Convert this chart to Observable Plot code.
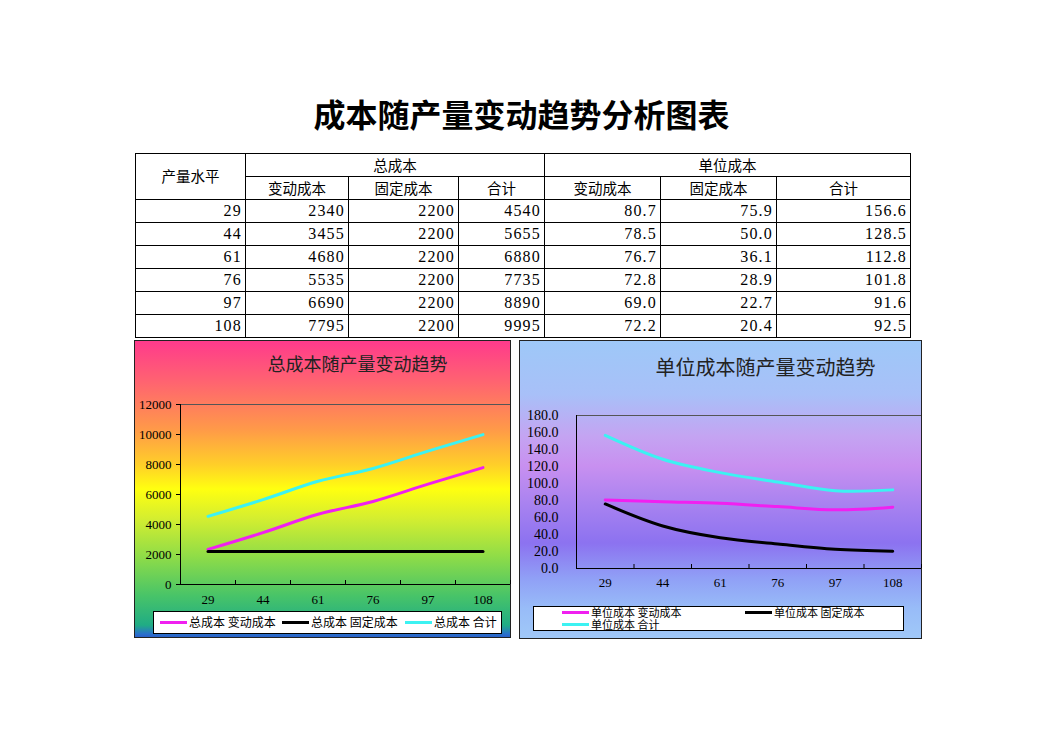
<!DOCTYPE html>
<html><head><meta charset="utf-8">
<script src="https://cdn.jsdelivr.net/npm/d3@7"></script>
<script src="https://cdn.jsdelivr.net/npm/@observablehq/plot@0.6"></script>
<style>
body{margin:0;background:#fff;}
#page{position:relative;width:1043px;height:733px;font-family:"Noto Sans CJK SC",sans-serif;color:#000;overflow:hidden;}
#title{position:absolute;left:0;width:1043px;top:90px;text-align:center;font-size:32px;font-weight:700;line-height:46px;letter-spacing:0px;}
#tbl{position:absolute;left:135px;top:153px;border-collapse:collapse;table-layout:fixed;width:775px;}
#tbl td{border:1px solid #000;height:22px;padding:0 3px 0 0;font-size:14.5px;line-height:20px;overflow:hidden;white-space:nowrap;}
#tbl td.h{text-align:center;padding:0;}
#tbl td.n{text-align:right;font-family:"Liberation Serif",serif;font-size:16px;letter-spacing:1.2px;}
.chart{position:absolute;box-sizing:border-box;border:1px solid #222;}
.ctitle{position:absolute;left:0;right:0;text-align:center;color:#222;}
.plot{position:absolute;left:0;}
.legend{position:absolute;background:#fff;border:1px solid #000;box-sizing:border-box;font-size:12px;}
.item{position:absolute;display:flex;align-items:center;white-space:nowrap;line-height:12px;}
.sw{display:inline-block;width:27px;height:3px;margin-right:2px;}
#l2 .item{font-size:11px;line-height:11px;}
</style></head>
<body>
<div id="page">
  <div id="title">成本随产量变动趋势分析图表</div>
  <table id="tbl"></table>
  <div id="c1" class="chart" style="left:134px;top:340px;width:377px;height:298px;background:linear-gradient(to bottom,#ff3a8c 0%,#ff6470 14%,#ff9a48 30%,#ffd028 42%,#ffff10 50%,#d4ee30 60%,#8edc48 73%,#48c468 86%,#20ac84 96%,#2a70cc 99%,#2a60c8 100%);">
    <div class="ctitle" style="top:10px;font-size:18px;line-height:24px;padding-left:70px;">总成本随产量变动趋势</div>
    <div class="plot" id="p1" style="top:49px;"></div>
    <div class="legend" id="l1" style="left:18px;top:270px;width:349px;height:23px;"></div>
  </div>
  <div id="c2" class="chart" style="left:519px;top:340px;width:403px;height:299px;background:linear-gradient(to bottom,#9ec8f8 0%,#a8c0f8 18%,#c4a4f2 32%,#c890f0 42%,#a882f0 55%,#8c72f0 68%,#90a0f6 80%,#98bcf8 90%,#a0c8f8 100%);">
    <div class="ctitle" style="top:13px;font-size:20px;line-height:26px;padding-left:90px;">单位成本随产量变动趋势</div>
    <div class="plot" id="p2" style="top:64px;"></div>
    <div class="legend" id="l2" style="left:13px;top:265px;width:371px;height:25px;"></div>
  </div>
</div>
<script>
// ---- data ----
const output = [29, 44, 61, 76, 97, 108];
const totalVar = [2340, 3455, 4680, 5535, 6690, 7795];
const totalFixed = [2200, 2200, 2200, 2200, 2200, 2200];
const totalSum = [4540, 5655, 6880, 7735, 8890, 9995];
const unitVar = [80.7, 78.5, 76.7, 72.8, 69.0, 72.2];
const unitFixed = [75.9, 50.0, 36.1, 28.9, 22.7, 20.4];
const unitSum = [156.6, 128.5, 112.8, 101.8, 91.6, 92.5];
const groups = ["总成本", "单位成本"];
const seriesNames = ["变动成本", "固定成本", "合计"];
const rowHeader = "产量水平";
const totalTicks = [0, 2000, 4000, 6000, 8000, 10000, 12000];
const unitTicks = [0, 20, 40, 60, 80, 100, 120, 140, 160, 180];
const seriesColors = ["#f020f0", "#000000", "#3cf2f2"];

// ---- table ----
const tbl = document.getElementById("tbl");
const colW = [110, 103, 110, 86, 116, 116, 134];
let html = "<colgroup>" + colW.map(w => `<col style="width:${w}px">`).join("") + "</colgroup>";
html += `<tr><td class="h" rowspan="2" style="vertical-align:top;padding-top:12px">${rowHeader}</td><td class="h" colspan="3">${groups[0]}</td><td class="h" colspan="3">${groups[1]}</td></tr>`;
html += "<tr>" + seriesNames.concat(seriesNames).map(s => `<td class="h">${s}</td>`).join("") + "</tr>";
const f1 = d3.format(".1f");
output.forEach((o, i) => {
  html += `<tr><td class="n">${o}</td><td class="n">${totalVar[i]}</td><td class="n">${totalFixed[i]}</td><td class="n">${totalSum[i]}</td><td class="n">${f1(unitVar[i])}</td><td class="n">${f1(unitFixed[i])}</td><td class="n">${f1(unitSum[i])}</td></tr>`;
});
tbl.innerHTML = html;

// ---- charts ----
function longRows(arrs) {
  const rows = [];
  arrs.forEach((arr, s) => arr.forEach((v, i) => rows.push({series: seriesNames[s], pos: i + 0.5, value: v})));
  return rows;
}
function chart(opts) {
  const rows = longRows(opts.arrays);
  const plotH = opts.height - opts.marginTop - opts.marginBottom;
  return Plot.plot({
    width: opts.width, height: opts.height,
    marginLeft: opts.marginLeft, marginRight: 0, marginTop: opts.marginTop, marginBottom: opts.marginBottom,
    style: {fontFamily: "Liberation Serif, serif", fontSize: "13px", background: "transparent", color: "#000", overflow: "visible"},
    x: {domain: [0, output.length], axis: null},
    y: {domain: [opts.ticks[0], opts.ticks[opts.ticks.length - 1]], axis: null},
    color: {domain: seriesNames, range: seriesColors},
    marks: [
      Plot.ruleY([opts.ticks[opts.ticks.length - 1]], {stroke: "#555", strokeWidth: 1}),
      Plot.line(rows, {x: "pos", y: "value", stroke: "series", strokeWidth: 3, curve: "catmull-rom"}),
      Plot.ruleX([0], {stroke: "#000", strokeWidth: 1}),
      Plot.ruleY([opts.ticks[0]], {stroke: "#000", strokeWidth: 1}),
      Plot.tickX(d3.range(1, output.length + 1), {x: d => d, insetTop: plotH - 4, stroke: "#000"}),
      Plot.axisY({ticks: opts.ticks, tickFormat: opts.yFormat, tickSize: opts.yTickSize, tickPadding: opts.yPad, stroke: "#000", fill: "#000", fontSize: opts.yFont, label: null}),
      Plot.axisX({ticks: output.map((d, i) => i + 0.5), tickFormat: d => output[Math.floor(d)], tickSize: 0, tickPadding: opts.xPad, fill: "#000", label: null})
    ]
  });
}
document.getElementById("p1").append(chart({
  arrays: [totalVar, totalFixed, totalSum], ticks: totalTicks, yFormat: d => String(d),
  width: 375, height: 220, marginLeft: 45, marginTop: 14, marginBottom: 26, yTickSize: 4, yPad: 5, xPad: 10, yFont: 13
}));
document.getElementById("p2").append(chart({
  arrays: [unitVar, unitFixed, unitSum], ticks: unitTicks, yFormat: d => f1(d),
  width: 401, height: 190, marginLeft: 56, marginTop: 10, marginBottom: 27, yTickSize: 0, yPad: 18, xPad: 9, yFont: 14
}));

// ---- legends ----
function item(parent, s, label, left, top) {
  const d = document.createElement("div");
  d.className = "item";
  d.style.left = left + "px"; d.style.top = top + "px";
  d.innerHTML = `<span class="sw" style="background:${seriesColors[s]}"></span><span>${label}</span>`;
  parent.append(d);
}
const l1 = document.getElementById("l1");
item(l1, 0, groups[0] + " " + seriesNames[0], 6, 4);
item(l1, 1, groups[0] + " " + seriesNames[1], 128, 4);
item(l1, 2, groups[0] + " " + seriesNames[2], 251, 4);
const l2 = document.getElementById("l2");
item(l2, 0, groups[1] + " " + seriesNames[0], 28, 0);
item(l2, 1, groups[1] + " " + seriesNames[1], 211, 0);
item(l2, 2, groups[1] + " " + seriesNames[2], 28, 12);
</script>
</body></html>
